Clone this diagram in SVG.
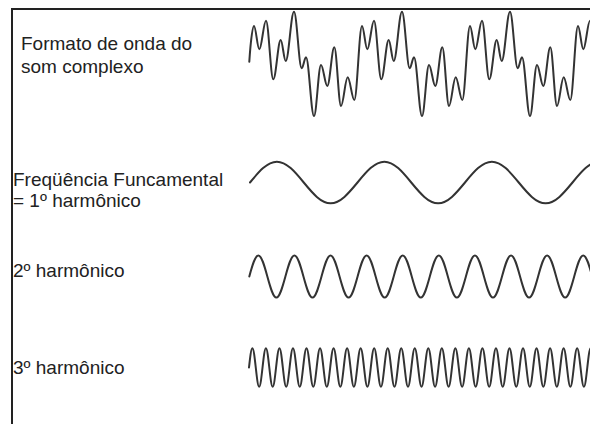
<svg xmlns="http://www.w3.org/2000/svg" width="590" height="424" viewBox="0 0 590 424">
<style>
.lbl{font-family:"Liberation Sans",Arial,sans-serif;font-size:19px;fill:#222}
.wave{fill:none;stroke:#333;stroke-width:2;stroke-linejoin:round;stroke-linecap:round}
.frame{fill:none;stroke:#222;stroke-width:2}
</style>
<rect width="590" height="424" fill="#fff"/>
<path class="frame" d="M12,424 V9 H590"/>
<g id="complexo">
<text class="lbl" x="21" y="50">Formato de onda do</text>
<text class="lbl" x="21" y="73">som complexo</text>
<path class="wave" d="M249.3,61.7 C250.4,45 252.3,26 254,26 c1.93,0 3.37,23.3 5.3,23.3 2.43,0 4.27,-28.6 6.7,-28.6 2.65,0 4.65,58.6 7.3,58.6 2.69,0 4.71,-39.3 7.4,-39.3 1.82,0 3.18,21 5,21 3.02,0 5.28,-49.3 8.3,-49.3 2.8,0 4.9,56.6 7.7,56.6 1.56,0 2.74,-11 4.3,-11 2.91,0 5.09,58.7 8,58.7 2.54,0 4.46,-51 7,-51 2.29,0 4.01,21 6.3,21 2.54,0 4.46,-38.7 7,-38.7 2.43,0 4.27,58.7 6.7,58.7 2.43,0 4.27,-28.7 6.7,-28.7 2.4,0 4.2,22.7 6.6,22.7 2.8,0 4.9,-74 7.7,-74 1.93,0 3.37,23.3 5.3,23.3 2.43,0 4.27,-28.6 6.7,-28.6 2.65,0 4.65,58.6 7.3,58.6 2.69,0 4.71,-39.3 7.4,-39.3 1.82,0 3.18,21 5,21 3.02,0 5.28,-49.3 8.3,-49.3 2.8,0 4.9,56.6 7.7,56.6 1.56,0 2.74,-11 4.3,-11 2.91,0 5.09,58.7 8,58.7 2.54,0 4.46,-51 7,-51 2.29,0 4.01,21 6.3,21 2.54,0 4.46,-38.7 7,-38.7 2.43,0 4.27,58.7 6.7,58.7 2.43,0 4.27,-28.7 6.7,-28.7 2.4,0 4.2,22.7 6.6,22.7 2.8,0 4.9,-74 7.7,-74 1.93,0 3.37,23.3 5.3,23.3 2.43,0 4.27,-28.6 6.7,-28.6 2.65,0 4.65,58.6 7.3,58.6 2.69,0 4.71,-39.3 7.4,-39.3 1.82,0 3.18,21 5,21 3.02,0 5.28,-49.3 8.3,-49.3 2.8,0 4.9,56.6 7.7,56.6 1.56,0 2.74,-11 4.3,-11 2.91,0 5.09,58.7 8,58.7 2.54,0 4.46,-51 7,-51 2.29,0 4.01,21 6.3,21 2.54,0 4.46,-38.7 7,-38.7 2.43,0 4.27,58.7 6.7,58.7 2.43,0 4.27,-28.7 6.7,-28.7 2.4,0 4.2,22.7 6.6,22.7 2.8,0 4.9,-74 7.7,-74 1.93,0 3.37,23.3 5.3,23.3 2.43,0 4.27,-28.6 6.7,-28.6 2.65,0 4.65,58.6 7.3,58.6"/>
</g>
<g id="fundamental">
<text class="lbl" x="13" y="186">Freqüência Funcamental</text>
<text class="lbl" x="13" y="207">= 1º harmônico</text>
<path class="wave" d="M250,182.5 c8.764,-10.656 17.194,-20.8 26.875,-20.8 s18.11,10.144 26.875,20.8 17.194,20.8 26.875,20.8 18.11,-10.144 26.875,-20.8 17.194,-20.8 26.875,-20.8 18.11,10.144 26.875,20.8 17.194,20.8 26.875,20.8 18.11,-10.144 26.875,-20.8 17.194,-20.8 26.875,-20.8 18.11,10.144 26.875,20.8 17.194,20.8 26.875,20.8 18.11,-10.144 26.875,-20.8 17.194,-20.8 26.875,-20.8"/>
</g>
<g id="harmonico2">
<text class="lbl" x="13" y="277">2º harmônico</text>
<path class="wave" d="M249.3,276.5 c2.943,-10.758 5.774,-21 9.025,-21 s6.082,10.242 9.025,21 5.774,21 9.025,21 6.082,-10.242 9.025,-21 5.774,-21 9.025,-21 6.082,10.242 9.025,21 5.774,21 9.025,21 6.082,-10.242 9.025,-21 5.774,-21 9.025,-21 6.082,10.242 9.025,21 5.774,21 9.025,21 6.082,-10.242 9.025,-21 5.774,-21 9.025,-21 6.082,10.242 9.025,21 5.774,21 9.025,21 6.082,-10.242 9.025,-21 5.774,-21 9.025,-21 6.082,10.242 9.025,21 5.774,21 9.025,21 6.082,-10.242 9.025,-21 5.774,-21 9.025,-21 6.082,10.242 9.025,21 5.774,21 9.025,21 6.082,-10.242 9.025,-21 5.774,-21 9.025,-21 6.082,10.242 9.025,21 5.774,21 9.025,21 6.082,-10.242 9.025,-21 5.774,-21 9.025,-21 6.082,10.242 9.025,21 5.774,21 9.025,21 6.082,-10.242 9.025,-21 5.774,-21 9.025,-21 6.082,10.242 9.025,21 5.774,21 9.025,21 6.082,-10.242 9.025,-21 5.774,-21 9.025,-21 6.082,10.242 9.025,21 5.774,21 9.025,21 6.082,-10.242 9.025,-21 5.774,-21 9.025,-21 6.082,10.242 9.025,21"/>
</g>
<g id="harmonico3">
<text class="lbl" x="13" y="374">3º harmônico</text>
<path class="wave" d="M249,367.5 c1.103,-9.887 2.164,-19.3 3.383,-19.3 s2.279,9.413 3.383,19.3 2.164,19.3 3.383,19.3 2.279,-9.413 3.383,-19.3 2.164,-19.3 3.383,-19.3 2.279,9.413 3.383,19.3 2.164,19.3 3.383,19.3 2.279,-9.413 3.383,-19.3 2.164,-19.3 3.383,-19.3 2.279,9.413 3.383,19.3 2.164,19.3 3.383,19.3 2.279,-9.413 3.383,-19.3 2.164,-19.3 3.383,-19.3 2.279,9.413 3.383,19.3 2.164,19.3 3.383,19.3 2.279,-9.413 3.383,-19.3 2.164,-19.3 3.383,-19.3 2.279,9.413 3.383,19.3 2.164,19.3 3.383,19.3 2.279,-9.413 3.383,-19.3 2.164,-19.3 3.383,-19.3 2.279,9.413 3.383,19.3 2.164,19.3 3.383,19.3 2.279,-9.413 3.383,-19.3 2.164,-19.3 3.383,-19.3 2.279,9.413 3.383,19.3 2.164,19.3 3.383,19.3 2.279,-9.413 3.383,-19.3 2.164,-19.3 3.383,-19.3 2.279,9.413 3.383,19.3 2.164,19.3 3.383,19.3 2.279,-9.413 3.383,-19.3 2.164,-19.3 3.383,-19.3 2.279,9.413 3.383,19.3 2.164,19.3 3.383,19.3 2.279,-9.413 3.383,-19.3 2.164,-19.3 3.383,-19.3 2.279,9.413 3.383,19.3 2.164,19.3 3.383,19.3 2.279,-9.413 3.383,-19.3 2.164,-19.3 3.383,-19.3 2.279,9.413 3.383,19.3 2.164,19.3 3.383,19.3 2.279,-9.413 3.383,-19.3 2.164,-19.3 3.383,-19.3 2.279,9.413 3.383,19.3 2.164,19.3 3.383,19.3 2.279,-9.413 3.383,-19.3 2.164,-19.3 3.383,-19.3 2.279,9.413 3.383,19.3 2.164,19.3 3.383,19.3 2.279,-9.413 3.383,-19.3 2.164,-19.3 3.383,-19.3 2.279,9.413 3.383,19.3 2.164,19.3 3.383,19.3 2.279,-9.413 3.383,-19.3 2.164,-19.3 3.383,-19.3 2.279,9.413 3.383,19.3 2.164,19.3 3.383,19.3 2.279,-9.413 3.383,-19.3 2.164,-19.3 3.383,-19.3 2.279,9.413 3.383,19.3 2.164,19.3 3.383,19.3 2.279,-9.413 3.383,-19.3 2.164,-19.3 3.383,-19.3 2.279,9.413 3.383,19.3 2.164,19.3 3.383,19.3 2.279,-9.413 3.383,-19.3 2.164,-19.3 3.383,-19.3 2.279,9.413 3.383,19.3 2.164,19.3 3.383,19.3 2.279,-9.413 3.383,-19.3 2.164,-19.3 3.383,-19.3 2.279,9.413 3.383,19.3 2.164,19.3 3.383,19.3 2.279,-9.413 3.383,-19.3 2.164,-19.3 3.383,-19.3 2.279,9.413 3.383,19.3 2.164,19.3 3.383,19.3 2.279,-9.413 3.383,-19.3 2.164,-19.3 3.383,-19.3 2.279,9.413 3.383,19.3 2.164,19.3 3.383,19.3 2.279,-9.413 3.383,-19.3 2.164,-19.3 3.383,-19.3 2.279,9.413 3.383,19.3 2.164,19.3 3.383,19.3 2.279,-9.413 3.383,-19.3 2.164,-19.3 3.383,-19.3 2.279,9.413 3.383,19.3 2.164,19.3 3.383,19.3 2.279,-9.413 3.383,-19.3 2.164,-19.3 3.383,-19.3 2.279,9.413 3.383,19.3 2.164,19.3 3.383,19.3 2.279,-9.413 3.383,-19.3 2.164,-19.3 3.383,-19.3 2.279,9.413 3.383,19.3 2.164,19.3 3.383,19.3 2.279,-9.413 3.383,-19.3 2.164,-19.3 3.383,-19.3 2.279,9.413 3.383,19.3 2.164,19.3 3.383,19.3 2.279,-9.413 3.383,-19.3 2.164,-19.3 3.383,-19.3"/>
</g>
</svg>
